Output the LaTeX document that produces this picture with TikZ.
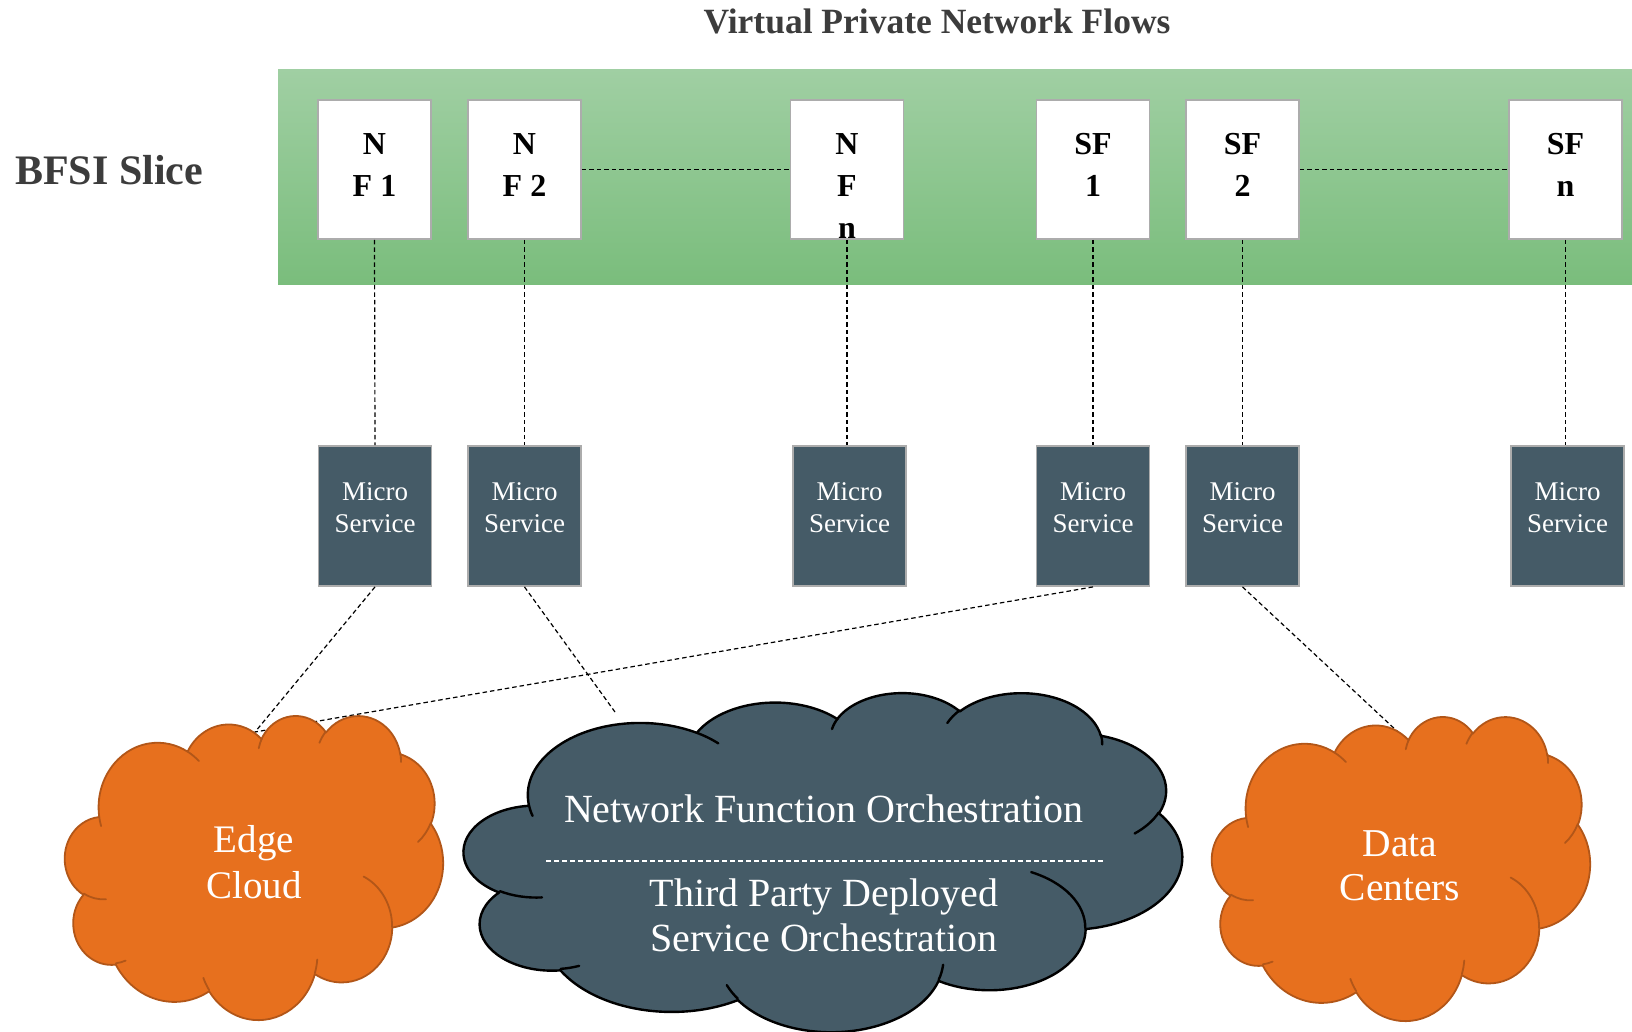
\documentclass[tikz,border=0pt]{standalone}
\usepackage{fontspec}
\setmainfont{Liberation Serif}
\usetikzlibrary{calc}
\definecolor{bandtop}{RGB}{160,207,163}
\definecolor{bandbot}{RGB}{122,189,124}
\definecolor{slate}{RGB}{69,91,103}
\definecolor{orng}{RGB}{231,112,30}
\definecolor{orngdk}{RGB}{178,86,24}
\definecolor{boxgray}{RGB}{172,172,172}
\definecolor{txtgray}{RGB}{60,60,60}

% PowerPoint-style elliptical arc: x radius, y radius, visual start angle, sweep
\newcommand\carc[4]{arc[x radius=#1pt, y radius=#2pt, start angle={atan2(#1*sin(#3),#2*cos(#3))}, delta angle={Mod(atan2(#1*sin(#3+#4),#2*cos(#3+#4))-atan2(#1*sin(#3),#2*cos(#3)),360)}]}

% cloud: L T W H fill draw linewidth
\newcommand\drawcloud[7]{%
 \begin{scope}[shift={(#1,#2)}, xscale=#3/100, yscale=-#4/100]
  \draw[fill=#5, draw=#6, line width=#7, line join=round]
   (9.028pt,33.264pt)
   \carc{15.632}{21.273}{-190.4875}{123.7805}
   \carc{12.345}{16.822}{-144.1024}{89.9452}
   \carc{10.104}{13.762}{-145.8079}{99.7230}
   \carc{11.243}{15.266}{-130.9861}{117.2417}
   \carc{12.345}{16.836}{-78.7089}{109.0269}
   \carc{15.683}{21.343}{-46.2673}{130.2690}
   \carc{13.391}{18.211}{0.6250}{114.0333}
   \carc{15.630}{21.331}{22.4516}{115.1726}
   \carc{17.870}{24.405}{66.2426}{75.7110}
   \carc{10.093}{13.699}{-274.9421}{146.7356}
   \carc{10.058}{13.762}{-246.8285}{152.5189}
   -- cycle;
  \draw[draw=#6, line width=#7, line cap=round]
   (10.863pt,60.595pt) \carc{10.058}{13.762}{86.742}{26.430}
   (16.037pt,80.785pt) \carc{10.093}{13.699}{73.610}{11.448}
   (38.144pt,90.486pt) \carc{15.630}{21.331}{137.624}{14.081}
   (66.729pt,80.442pt) \carc{15.630}{21.331}{6.453}{15.998}
   (79.002pt,53.134pt) \carc{13.391}{18.211}{-70.286}{70.911}
   (96.755pt,35.542pt) \carc{12.345}{16.836}{30.318}{27.752}
   (88.713pt,12.560pt) \carc{11.243}{15.266}{-13.744}{14.859}
   (67.310pt,9.148pt) \carc{11.243}{15.266}{-149.181}{18.195}
   (51.252pt,10.926pt) \carc{10.104}{13.762}{-163.494}{17.686}
   (32.407pt,12.019pt) \carc{15.632}{21.273}{-66.707}{12.319}
   (9.553pt,36.549pt) \carc{15.632}{21.273}{157.65}{11.86};
 \end{scope}}

\tikzset{
 nfbox/.style={draw=boxgray, line width=1.8pt, fill=white, minimum width=113pt, minimum height=139pt, inner sep=0pt},
 msbox/.style={draw=boxgray, line width=1.8pt, fill=slate, minimum width=113pt, minimum height=140pt, inner sep=0pt},
 nftext/.style={font=\bfseries\fontsize{32}{42}\selectfont, align=center, anchor=north, inner sep=0pt},
 mstext/.style={font=\fontsize{27}{32}\selectfont, text=white, align=center, anchor=north, inner sep=0pt},
 conn/.style={line width=1.2pt, dash pattern=on 4.5pt off 3pt},
 cloudtext/.style={text=white, align=center, anchor=north, inner sep=0pt}
}

\begin{document}
\begin{tikzpicture}[x=1pt,y=-1pt]
\useasboundingbox (0,0) rectangle (1632,1031);
\fill[white] (0,0) rectangle (1632,1031);

% titles
\node[font=\bfseries\fontsize{35.5}{40}\selectfont, text=txtgray] (title) at (937,21) {Virtual Private Network Flows};
\node[font=\bfseries\fontsize{42}{48}\selectfont, text=txtgray, anchor=west, inner sep=0pt] (bfsi) at (15,170) {BFSI Slice};

% green band
\shade[top color=bandtop, bottom color=bandbot] (278,69) rectangle (1632,284);

% function boxes
\node[nfbox] (nf1) at (374.5,169.5) {};
\node[nfbox] (nf2) at (524.5,169.5) {};
\node[nfbox] (nfn) at (847,169.5) {};
\node[nfbox] (sf1) at (1093,169.5) {};
\node[nfbox] (sf2) at (1242.5,169.5) {};
\node[nfbox] (sfn) at (1565.5,169.5) {};
\node[nftext] (nf1t) at (374.5,133) {N\\F 1};
\node[nftext] (nf2t) at (524.5,133) {N\\F 2};
\node[nftext] (nfnt) at (847,133) {N\\F\\n};
\node[nftext] (sf1t) at (1093,133) {SF\\1};
\node[nftext] (sf2t) at (1242.5,133) {SF\\2};
\node[nftext] (sfnt) at (1565.5,133) {SF\\n};

% micro services
\node[msbox] (ms1) at (375,516) {};
\node[msbox] (ms2) at (524.5,516) {};
\node[msbox] (ms3) at (849.5,516) {};
\node[msbox] (ms4) at (1093,516) {};
\node[msbox] (ms5) at (1242.5,516) {};
\node[msbox] (ms6) at (1567.5,516) {};
\node[mstext] (ms1t) at (375,482) {Micro\\Service};
\node[mstext] (ms2t) at (524.5,482) {Micro\\Service};
\node[mstext] (ms3t) at (849.5,482) {Micro\\Service};
\node[mstext] (ms4t) at (1093,482) {Micro\\Service};
\node[mstext] (ms5t) at (1242.5,482) {Micro\\Service};
\node[mstext] (ms6t) at (1567.5,482) {Micro\\Service};

% connectors
\draw[conn] (nf2.east) -- (nfn.west);
\draw[conn] (sf2.east) -- (sfn.west);
\draw[conn] (nf1.south) -- (ms1.north);
\draw[conn] (nf2.south) -- (ms2.north);
\draw[conn] (nfn.south) -- (nfn.south |- ms3.north);
\draw[conn] (sf1.south) -- (ms4.north);
\draw[conn] (sf2.south) -- (ms5.north);
\draw[conn] (sfn.south) -- (sfn.south |- ms6.north);

\coordinate (ecTop) at (255,732);
\coordinate (nfoEnd) at (615,712);
\coordinate (dcTop) at (1398,732);
\draw[conn] (ms1.south) -- (ecTop);
\draw[conn] (ms4.south) -- (ecTop);
\draw[conn] (ms2.south) -- (nfoEnd);
\draw[conn] (ms5.south) -- (dcTop);

% clouds
\drawcloud{65}{715}{378}{304}{orng}{orngdk}{1.8pt}
\drawcloud{464}{692}{718}{339}{slate}{black}{2.4pt}
\drawcloud{1212}{716}{378}{304}{orng}{orngdk}{1.8pt}

\node[cloudtext, font=\fontsize{39}{46}\selectfont] (edget) at (254,825) {Edge\\Cloud};
\node[cloudtext, font=\fontsize{40}{45}\selectfont] (nfot1) at (824,795) {Network Function Orchestration};
\coordinate (sepL) at (546,861);
\coordinate (sepR) at (1103,861);
\draw[white, line width=1.2pt, dash pattern=on 5pt off 3pt] (sepL) -- (sepR);
\node[cloudtext, font=\fontsize{40}{45}\selectfont] (nfot2) at (824,879) {Third Party Deployed\\Service Orchestration};
\node[cloudtext, font=\fontsize{39.5}{44}\selectfont] (dct) at (1400,830) {Data\\Centers};
\end{tikzpicture}
\end{document}
